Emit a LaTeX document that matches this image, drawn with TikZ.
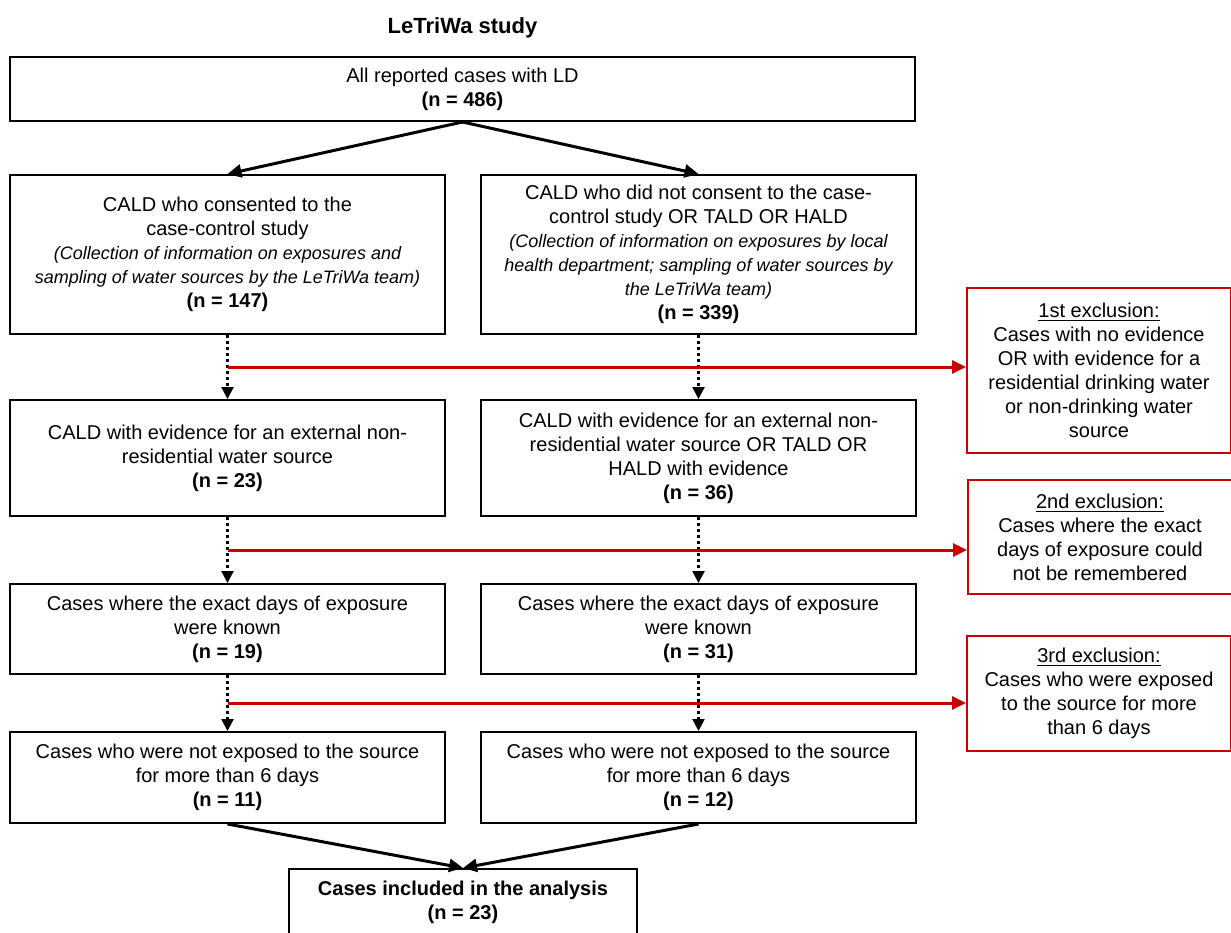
\documentclass[tikz,border=0pt]{standalone}
\usepackage{fontspec}
\setmainfont{Liberation Sans}
\usepackage{xcolor}
\usepackage{tikz}
\usetikzlibrary{
    positioning,
    arrows.meta,
    calc
}
\definecolor{exred}{RGB}{200,0,0}
\newcommand{\subnote}[1]{{\fontsize{9}{11}\selectfont\itshape #1}}
\tikzset{
    block/.style={
        rectangle, draw, line width=1pt,
        minimum width=217.5pt, inner sep=2pt, align=center,
        font=\fontsize{10}{12}\selectfont
    },
    exclbox/.style={
        rectangle, draw=exred, line width=1pt,
        minimum width=132pt, inner sep=2pt, align=center,
        font=\fontsize{10}{12}\selectfont
    },
    blocktitle/.style={
        font=\fontsize{11}{13}\selectfont\bfseries, inner sep=0pt
    }
}

\begin{document}
\begin{tikzpicture}[
    arrow/.style={-{Triangle[length=7pt, width=6.5pt]}, line width=1.5pt, draw=black},
    dot_arrow/.style={-{Triangle[length=6pt, width=6pt]}, line width=1.2pt, draw=black, dash pattern=on 1.5pt off 1.5pt},
    excl_arrow/.style={-{Triangle[length=7pt, width=6.5pt]}, line width=1.5pt, draw=exred}
]
    \useasboundingbox (0,0) rectangle (615.5pt,-466pt);

    % --- TITLE + TOP ---
    \node[block, minimum width=452.5pt, minimum height=32pt] (all) at (231.25pt,-44.5pt)
        {All reported cases with LD\\\textbf{(n = 486)}};
    \node[blocktitle, above=9pt of all] (title) {LeTriWa study};

    % --- CASE-CONTROL vs OTHERS ---
    \node[block, minimum height=79.5pt, below=26pt of all.south west, anchor=north west] (cald_yes)
        {CALD who consented to the\\case-control study\\
         \subnote{(Collection of information on exposures and}\\
         \subnote{sampling of water sources by the LeTriWa team)}\\\textbf{(n = 147)}};
    \node[block, minimum height=79.5pt, right=17pt of cald_yes] (cald_no)
        {CALD who did not consent to the case-\\control study OR TALD OR HALD\\
         \subnote{(Collection of information on exposures by local}\\
         \subnote{health department; sampling of water sources by}\\
         \subnote{the LeTriWa team)}\\\textbf{(n = 339)}};

    % --- EXTERNAL SOURCE ---
    \node[block, minimum height=58pt, below=32pt of cald_yes] (ext_l)
        {CALD with evidence for an external non-\\residential water source\\\textbf{(n = 23)}};
    \node[block, minimum height=58pt, right=17pt of ext_l] (ext_r)
        {CALD with evidence for an external non-\\residential water source OR TALD OR\\HALD with evidence\\\textbf{(n = 36)}};

    % --- EXACT DAYS KNOWN ---
    \node[block, minimum height=45pt, below=33pt of ext_l] (known_l)
        {Cases where the exact days of exposure\\were known\\\textbf{(n = 19)}};
    \node[block, minimum height=45pt, right=17pt of known_l] (known_r)
        {Cases where the exact days of exposure\\were known\\\textbf{(n = 31)}};

    % --- NOT MORE THAN 6 DAYS ---
    \node[block, minimum height=45.5pt, below=28pt of known_l] (short_l)
        {Cases who were not exposed to the source\\for more than 6 days\\\textbf{(n = 11)}};
    \node[block, minimum height=45.5pt, right=17pt of short_l] (short_r)
        {Cases who were not exposed to the source\\for more than 6 days\\\textbf{(n = 12)}};

    % --- FINAL ---
    \coordinate (join) at ($(short_l.south)!0.5!(short_r.south)$);
    \node[block, minimum width=174pt, minimum height=33pt, below=22pt of join] (final)
        {\textbf{Cases included in the analysis}\\\textbf{(n = 23)}};

    % --- EXCLUSIONS ---
    \coordinate (x1) at ($(cald_yes.south)!0.5!(ext_l.north)$);
    \coordinate (x2) at ($(ext_l.south)!0.5!(known_l.north)$);
    \coordinate (x3) at ($(known_l.south)!0.5!(short_l.north)$);
    \node[exclbox, minimum height=82.5pt, anchor=west, xshift=24.5pt, yshift=-1.75pt] (excl1) at (x1 -| cald_no.east)
        {\underline{1st exclusion:}\\Cases with no evidence\\OR with evidence for a\\residential drinking water\\or non-drinking water\\source};
    \node[exclbox, minimum height=57pt, anchor=west, xshift=25pt, yshift=6.5pt] (excl2) at (x2 -| cald_no.east)
        {\underline{2nd exclusion:}\\Cases where the exact\\days of exposure could\\not be remembered};
    \node[exclbox, minimum height=57.5pt, anchor=west, xshift=24.5pt, yshift=4.75pt] (excl3) at (x3 -| cald_no.east)
        {\underline{3rd exclusion:}\\Cases who were exposed\\to the source for more\\than 6 days};

    % --- ARROWS ---
    \draw[arrow] (all.south) -- (cald_yes.north);
    \draw[arrow] (all.south) -- (cald_no.north);
    \foreach \a/\b in {cald_yes/ext_l, cald_no/ext_r, ext_l/known_l, ext_r/known_r, known_l/short_l, known_r/short_r}
        \draw[dot_arrow] (\a) -- (\b);
    \draw[excl_arrow] (x1) -- (x1 -| excl1.west);
    \draw[excl_arrow] (x2) -- (x2 -| excl2.west);
    \draw[excl_arrow] (x3) -- (x3 -| excl3.west);
    \draw[arrow] (short_l.south) -- (final.north);
    \draw[arrow] (short_r.south) -- (final.north);

\end{tikzpicture}
\end{document}
